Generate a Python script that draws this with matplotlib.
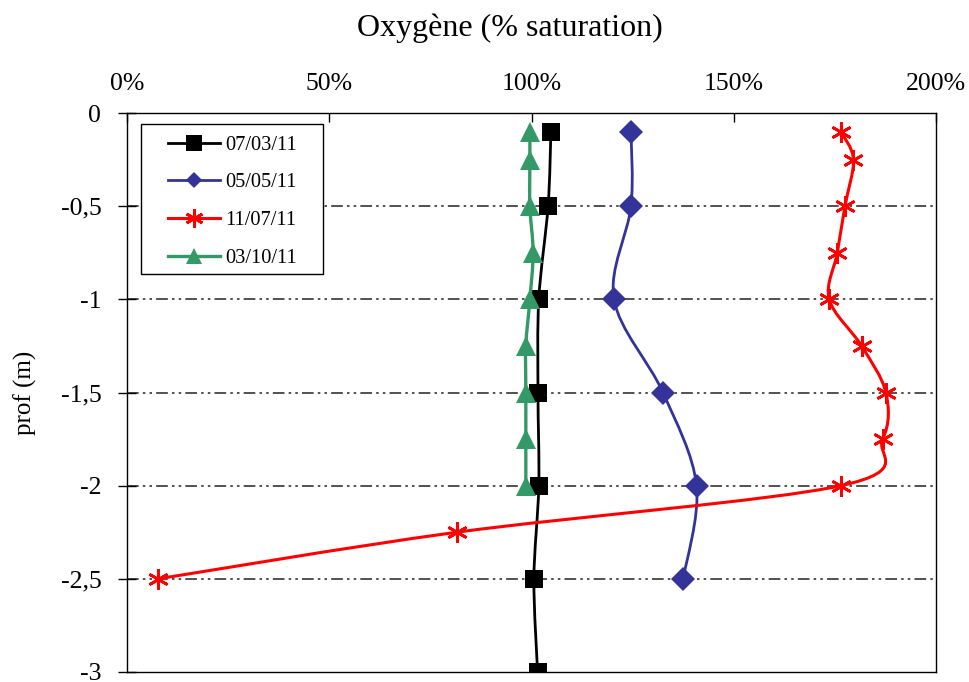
import matplotlib
matplotlib.use("Agg")
import matplotlib.pyplot as plt
from matplotlib.path import Path
from matplotlib.patches import PathPatch, Rectangle
from matplotlib.lines import Line2D
import numpy as np

plt.rcParams['font.family'] = ['Liberation Serif', 'DejaVu Serif']

# ---- data (oxygen % saturation vs depth m) ----
labels = ["07/03/11", "05/05/11", "11/07/11", "03/10/11"]

depth_0703 = [-0.1, -0.5, -1.0, -1.5, -2.0, -2.5, -3.0]
oxy_0703 = [104.8, 104.1, 101.8, 101.6, 101.8, 100.6, 101.5]

depth_0505 = [-0.1, -0.5, -1.0, -1.5, -2.0, -2.5]
oxy_0505 = [124.6, 124.6, 120.4, 132.5, 140.8, 137.5]

depth_1107 = [-0.1, -0.25, -0.5, -0.75, -1.0, -1.25, -1.5, -1.75, -2.0, -2.25, -2.5]
oxy_1107 = [176.5, 179.6, 177.5, 175.6, 173.6, 181.6, 187.6, 186.8, 176.5, 81.5, 7.7]

depth_0310 = [-0.1, -0.25, -0.5, -0.75, -1.0, -1.25, -1.5, -1.75, -2.0]
oxy_0310 = [99.6, 99.6, 99.6, 100.4, 99.6, 98.6, 98.6, 98.6, 98.6]

xticks = [0, 50, 100, 150, 200]
xticklabels = ["0%", "50%", "100%", "150%", "200%"]
yticks = [0, -0.5, -1, -1.5, -2, -2.5, -3]
yticklabels = ["0", "-0,5", "-1", "-1,5", "-2", "-2,5", "-3"]

series = [
    (oxy_0703, depth_0703, labels[0], dict(color="black", marker="s", ms=13, mew=0, lw=2.0, lms=11)),
    (oxy_0505, depth_0505, labels[1], dict(color="#333399", marker="D", ms=12, mew=0, lw=2.0, lms=8)),
    (oxy_1107, depth_1107, labels[2], dict(color="#FF0000", marker=(6, 2, 0), ms=15, mew=2.0, lw=2.2, lms=13)),
    (oxy_0310, depth_0310, labels[3], dict(color="#339966", marker="^", ms=14, mew=0, lw=2.4, lms=12)),
]


def smooth_path(x, y):
    pts = np.column_stack([x, y]).astype(float)
    n = len(pts)
    verts = [pts[0]]
    codes = [Path.MOVETO]
    for i in range(n - 1):
        p0 = pts[i - 1] if i > 0 else pts[i]
        p1 = pts[i]
        p2 = pts[i + 1]
        p3 = pts[i + 2] if i + 2 < n else pts[i + 1]
        c1 = p1 + (p2 - p0) / 6.0
        c2 = p2 - (p3 - p1) / 6.0
        verts += [c1, c2, p2]
        codes += [Path.CURVE4] * 3
    return Path(verts, codes)


W, H = 969, 682
L, R, T, B = 127, 936, 113, 672
fig = plt.figure(figsize=(W / 100, H / 100), dpi=100)
ax = fig.add_axes([L / W, 1 - B / H, (R - L) / W, (B - T) / H])

ax.set_xlim(0, 200)
ax.set_ylim(-3, 0)

for y in [-0.5, -1, -1.5, -2, -2.5]:
    ax.axhline(y, color="#333333", lw=1.2, ls=(0, (7, 2.5, 1.5, 2.5, 1.5, 2.5)), zorder=1)

handles = []
for z, (x, y, lab, st) in enumerate(series):
    patch = PathPatch(smooth_path(x, y), fill=False, edgecolor=st["color"],
                      lw=st["lw"], zorder=2 + z * 2, capstyle="round", joinstyle="round")
    ax.add_patch(patch)
    ax.plot(x, y, linestyle="none", marker=st["marker"], ms=st["ms"],
            color=st["color"], mec=st["color"], mew=st["mew"], zorder=3 + z * 2)
    handles.append(Line2D([], [], color=st["color"], lw=st["lw"], marker=st["marker"],
                          ms=st["lms"], mew=st["mew"], mec=st["color"], label=lab))

ax.xaxis.tick_top()
ax.set_xticks(xticks)
ax.set_xticklabels(xticklabels, fontsize=18.5)
ax.set_yticks(yticks)
ax.set_yticklabels(yticklabels, fontsize=18.5)
ax.tick_params(axis="x", direction="in", length=6.5, width=1, pad=13, top=True, bottom=False)
ax.tick_params(axis="y", direction="inout", length=13, width=1, pad=12)

for s in ax.spines.values():
    s.set_linewidth(1.0)
    s.set_color("black")

ax.set_ylabel("prof (m)", fontsize=18)
ax.yaxis.set_label_coords((37 - L) / (R - L), 0.5)
fig.text(510 / W, 1 - 28 / H, "Oxygène (% saturation)", fontsize=23,
         ha="center", va="center")

# legend frame drawn as a rectangle, entries placed without frame
frame = Rectangle(((141 - L) / (R - L), 1 - (274 - T) / (B - T)),
                  (323 - 141) / (R - L), (274 - 124) / (B - T),
                  transform=ax.transAxes, facecolor="white", edgecolor="black",
                  lw=1.0, zorder=19)
ax.add_patch(frame)
leg = ax.legend(handles=handles, loc="upper left",
                bbox_to_anchor=((168 - L) / (R - L), 1 - (135.5 - T) / (B - T)),
                fontsize=14.7, frameon=False, handlelength=2.55,
                labelspacing=0.9, borderpad=0, handletextpad=0.25, borderaxespad=0)
leg.set_zorder(20)

fig.savefig("out.png", dpi=100)
